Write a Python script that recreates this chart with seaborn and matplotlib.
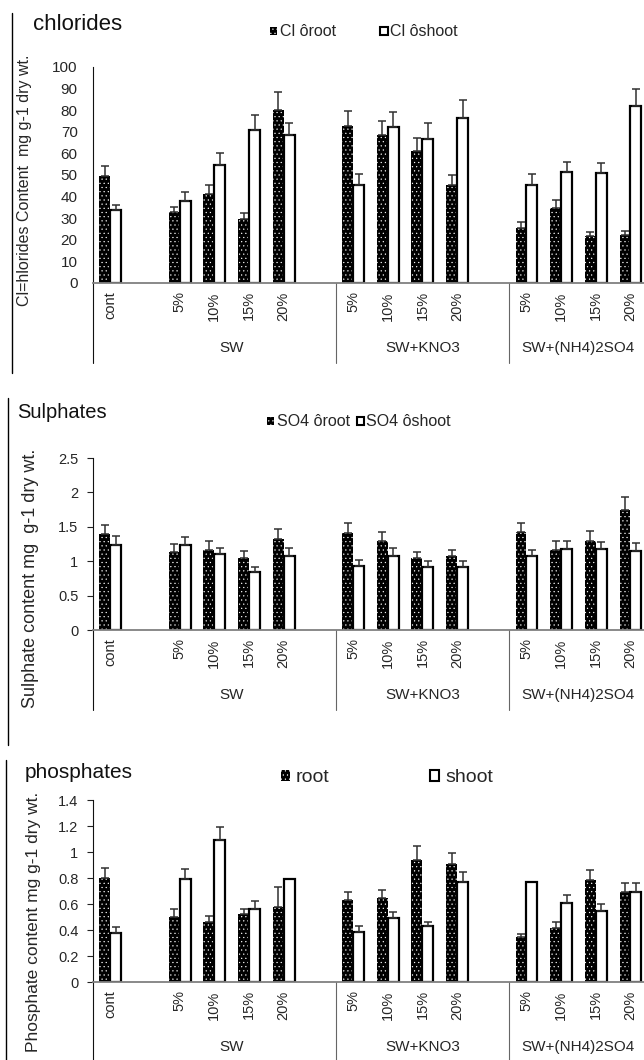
import numpy as np
import pandas as pd
import matplotlib
matplotlib.use("Agg")
import matplotlib.pyplot as plt
import seaborn as sns
from matplotlib.patches import Patch
from matplotlib.lines import Line2D
from matplotlib.transforms import blended_transform_factory

sns.set_theme(style="white")
plt.rcParams['font.family'] = ['Liberation Sans', 'DejaVu Sans']
plt.rcParams['hatch.linewidth'] = 0.35

# ---------------- data ----------------
slots = ['cont', '_g1', 'SW 5%', 'SW 10%', 'SW 15%', 'SW 20%', '_g2',
         'KNO3 5%', 'KNO3 10%', 'KNO3 15%', 'KNO3 20%', '_g3',
         'NH4 5%', 'NH4 10%', 'NH4 15%', 'NH4 20%']
tick_labels = ['cont', '', '5%', '10%', '15%', '20%', '',
               '5%', '10%', '15%', '20%', '',
               '5%', '10%', '15%', '20%']
treatments = [s for s in slots if not s.startswith('_')]
groups = ['SW', 'SW+KNO3', 'SW+(NH4)2SO4']

cl_root = [49.4, 32.9, 41.4, 29.7, 80.1, 72.9, 68.3, 61.2, 45.3, 25.4, 34.9, 21.6, 22.3]
cl_root_err = [4.9, 2.4, 3.9, 2.9, 8.5, 6.8, 6.6, 5.8, 4.7, 2.9, 3.6, 1.8, 1.6]
cl_shoot = [33.8, 38.1, 54.6, 70.9, 68.7, 45.6, 72.0, 66.7, 76.5, 45.6, 51.2, 50.9, 82.0]
cl_shoot_err = [2.4, 3.8, 5.5, 6.8, 5.6, 4.9, 7.2, 7.2, 8.0, 4.9, 4.8, 4.6, 8.0]

so4_root = [1.39, 1.14, 1.17, 1.04, 1.32, 1.41, 1.29, 1.04, 1.07, 1.43, 1.16, 1.30, 1.74]
so4_root_err = [0.14, 0.11, 0.12, 0.11, 0.15, 0.15, 0.14, 0.09, 0.09, 0.13, 0.14, 0.14, 0.19]
so4_shoot = [1.23, 1.23, 1.10, 0.84, 1.08, 0.93, 1.08, 0.91, 0.91, 1.07, 1.18, 1.18, 1.15]
so4_shoot_err = [0.13, 0.12, 0.09, 0.08, 0.11, 0.09, 0.11, 0.10, 0.10, 0.09, 0.11, 0.10, 0.11]

po4_root = [0.80, 0.50, 0.46, 0.52, 0.575, 0.63, 0.65, 0.94, 0.905, 0.345, 0.415, 0.785, 0.69]
po4_root_err = [0.075, 0.06, 0.05, 0.045, 0.155, 0.06, 0.06, 0.105, 0.085, 0.025, 0.045, 0.075, 0.07]
po4_shoot = [0.38, 0.79, 1.09, 0.565, 0.79, 0.385, 0.49, 0.43, 0.77, 0.77, 0.605, 0.545, 0.69]
po4_shoot_err = [0.045, 0.08, 0.10, 0.055, 0.0, 0.045, 0.05, 0.035, 0.075, 0.0, 0.065, 0.055, 0.075]

cl_ticks = [0, 10, 20, 30, 40, 50, 60, 70, 80, 90, 100]
so4_ticks = [0, 0.5, 1, 1.5, 2, 2.5]
so4_ticklabels = ['0', '0.5', '1', '1.5', '2', '2.5']
po4_ticks = [0, 0.2, 0.4, 0.6, 0.8, 1.0, 1.2, 1.4]
po4_ticklabels = ['0', '0.2', '0.4', '0.6', '0.8', '1', '1.2', '1.4']

# ---------------- layout ----------------
W, H = 644, 1060
fig = plt.figure(figsize=(W / 100, H / 100), dpi=100)
TXT = '#262626'
AX_LEFT = 93


def fx(px):
    return px / W


def fy(py):
    return 1 - py / H


def panel(top, bottom, root, root_err, shoot, shoot_err, ylim, ticks, ticklabels,
          ticklen, tickpad, ticksize):
    ax = fig.add_axes([fx(AX_LEFT), fy(bottom), 1 - fx(AX_LEFT), (bottom - top) / H])
    df = pd.DataFrame({
        'slot': treatments * 2,
        'tissue': ['root'] * len(treatments) + ['shoot'] * len(treatments),
        'value': root + shoot,
    })
    sns.barplot(data=df, x='slot', y='value', hue='tissue', order=slots,
                hue_order=['root', 'shoot'],
                palette={'root': 'black', 'shoot': 'white'}, saturation=1,
                width=0.63, errorbar=None, legend=False, ax=ax,
                edgecolor='black', linewidth=1.6)
    # stipple on root bars
    for p in ax.containers[0]:
        p.set_hatch('....')
        p.set_edgecolor('white')
        p.set_linewidth(0)
    # error bars (plus only)
    errs = {'root': dict(zip(treatments, root_err)), 'shoot': dict(zip(treatments, shoot_err))}
    for cont, tissue in zip(ax.containers[:2], ['root', 'shoot']):
        xs, ys, es = [], [], []
        for p in cont:
            xc = p.get_x() + p.get_width() / 2
            idx = int(round(xc))
            e = errs[tissue][slots[idx]]
            if e > 0:
                xs.append(xc)
                ys.append(p.get_height())
                es.append(e)
        xs = np.array(xs); ys = np.array(ys); es = np.array(es)
        ax.errorbar(xs, ys, yerr=[np.zeros_like(es), es], fmt='none',
                    ecolor='#303030', elinewidth=1.1, capsize=3.2, capthick=1.1,
                    zorder=1)
    ax.set_xlim(-0.5, 15.39)
    ax.set_ylim(*ylim)
    ax.set_yticks(ticks)
    ax.set_yticklabels(ticklabels)
    ax.set_xticks(range(len(slots)))
    ax.set_xticklabels(tick_labels, rotation=90)
    ax.set_xlabel('')
    ax.set_ylabel('')
    ax.tick_params(axis='x', length=0, pad=6, labelsize=10.5, labelcolor=TXT)
    ax.tick_params(axis='y', length=ticklen, width=0.8, color='#222222', direction='out',
                   pad=tickpad, labelsize=ticksize, labelcolor=TXT, left=True)
    for s in ['top', 'right']:
        ax.spines[s].set_visible(False)
    ax.spines['left'].set_color('#111111')
    ax.spines['left'].set_linewidth(0.8)
    ax.spines['bottom'].set_color('#808080')
    ax.spines['bottom'].set_linewidth(1.3)
    ax.patch.set_alpha(0)
    # group separators under the axis
    ax_h = bottom - top
    drop = -80 / ax_h
    tr = blended_transform_factory(ax.transData, ax.transAxes)
    for xb, col in zip([-0.5, 6.5, 11.5], ['#111111', '#666666', '#666666']):
        ax.add_line(Line2D([xb, xb], [0, drop], transform=tr, color=col, lw=0.8,
                           clip_on=False))
    for g, xc in zip(groups, [3.5, 9.0, 13.5]):
        ax.text(xc, -65 / ax_h, g, transform=tr, ha='center', va='center',
                fontsize=11, color=TXT, clip_on=False)
    return ax


ax1 = panel(67, 283, cl_root, cl_root_err, cl_shoot, cl_shoot_err, (0, 100),
            cl_ticks, [str(t) for t in cl_ticks], 0, 11, 11)
ax2 = panel(458, 630, so4_root, so4_root_err, so4_shoot, so4_shoot_err, (0, 2.5),
            so4_ticks, so4_ticklabels, 4.5, 6, 10.5)
ax3 = panel(800, 982, po4_root, po4_root_err, po4_shoot, po4_shoot_err, (0, 1.4),
            po4_ticks, po4_ticklabels, 4.5, 6, 10.5)

# titles
fig.text(fx(33), fy(25), 'chlorides', fontsize=16, color='#111111', va='center', ha='left')
fig.text(fx(17), fy(413), 'Sulphates', fontsize=14.5, color='#111111', va='center', ha='left')
fig.text(fx(25), fy(773), 'phosphates', fontsize=15, color='#111111', va='center', ha='left')

# y labels
fig.text(fx(25), fy(180), 'Cl=hlorides Content  mg g-1 dry wt.', rotation=90,
         fontsize=11.5, color=TXT, ha='center', va='center')
fig.text(fx(31), fy(578), 'Sulphate content mg  g-1 dry wt.', rotation=90,
         fontsize=13, color=TXT, ha='center', va='center')
fig.text(fx(34), fy(922), 'Phosphate content mg g-1 dry wt.', rotation=90,
         fontsize=12.5, color=TXT, ha='center', va='center')

# frame lines on the left
for x, y0, y1 in [(12, 13, 373), (8, 398, 745), (6, 760, 1060)]:
    fig.add_artist(Line2D([fx(x), fx(x)], [fy(y0), fy(y1)], color='black', lw=1))


def handles():
    h_root = Patch(facecolor='black', edgecolor='white', hatch='....', linewidth=0)
    h_shoot = Patch(facecolor='white', edgecolor='black', linewidth=1.5)
    return [h_root, h_shoot]


legend_kw = dict(frameon=False, ncol=2, borderaxespad=0, borderpad=0, labelcolor=TXT)
fig.legend(handles(), ['Cl ôroot', 'Cl ôshoot'], loc='center left',
           bbox_to_anchor=(fx(270), fy(32)), fontsize=11.5, columnspacing=2.8,
           handlelength=0.45, handleheight=0.45, handletextpad=0.15, **legend_kw)
fig.legend(handles(), ['SO4 ôroot', 'SO4 ôshoot'], loc='center left',
           bbox_to_anchor=(fx(267), fy(422)), fontsize=11.5, columnspacing=0.45,
           handlelength=0.45, handleheight=0.45, handletextpad=0.15, **legend_kw)
fig.legend(handles(), ['root', 'shoot'], loc='center left',
           bbox_to_anchor=(fx(281), fy(778)), fontsize=14, columnspacing=5.2,
           handlelength=0.45, handleheight=0.45, handletextpad=0.3, **legend_kw)

fig.savefig('out.png', dpi=100)
